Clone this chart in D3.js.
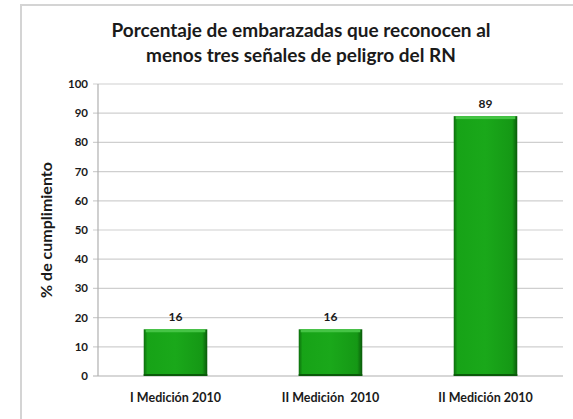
<!DOCTYPE html>
<html lang="es">
<head>
<meta charset="utf-8">
<title>Porcentaje de embarazadas</title>
<script src="https://d3js.org/d3.v7.min.js"></script>
<style>
  body { margin: 0; background: #fff; }
  svg text { font-family: Lato, "Open Sans", sans-serif; fill: #1a1a1a; }
</style>
</head>
<body>
<svg width="573" height="419"></svg>
<script>
// data
var categorias = ["I Medición 2010", "II Medición  2010", "II Medición 2010"];
var valores = [16, 16, 89];
var ticksY = [0, 10, 20, 30, 40, 50, 60, 70, 80, 90, 100];
var titulo = ["Porcentaje de embarazadas que reconocen al", "menos tres señales de peligro del RN"];
var tituloEje = "% de cumplimiento";

(function() {
var svg = d3.select("svg");
var mLeft = 98, mRight = 563, mTop = 84, mBottom = 376;

// outer frame (open on right and bottom, cropped)
svg.append("path")
    .attr("d", "M21,419 V5 H573")
    .attr("fill", "none")
    .attr("stroke", "#d4d4d4")
    .attr("stroke-width", 2);

var defs = svg.append("defs");
var grad = defs.append("linearGradient").attr("id", "verde")
    .attr("x1", 0).attr("x2", 1).attr("y1", 0).attr("y2", 0);
grad.append("stop").attr("offset", "0%").attr("stop-color", "#0c6e0c");
grad.append("stop").attr("offset", "6%").attr("stop-color", "#17a317");
grad.append("stop").attr("offset", "50%").attr("stop-color", "#1aa81a");
grad.append("stop").attr("offset", "92%").attr("stop-color", "#159815");
grad.append("stop").attr("offset", "100%").attr("stop-color", "#0a5a0a");

var x = d3.scaleBand().domain(categorias).range([mLeft, mRight]).paddingInner(0.59).paddingOuter(0.295);
var y = d3.scaleLinear().domain([0, 100]).range([mBottom, mTop]);

// gridlines
svg.append("g").selectAll("line").data(ticksY).join("line")
    .attr("x1", mLeft - 5).attr("x2", mRight)
    .attr("y1", function(d) { return y(d); })
    .attr("y2", function(d) { return y(d); })
    .attr("stroke", function(d) { return d === 0 ? "#b0b0b0" : "#cfcfcf"; })
    .attr("stroke-width", 1.2);

// y axis line
svg.append("line")
    .attr("x1", mLeft).attr("x2", mLeft)
    .attr("y1", y(100)).attr("y2", y(0))
    .attr("stroke", "#b0b0b0").attr("stroke-width", 1.2);

// y tick labels
svg.append("g").selectAll("text").data(ticksY).join("text")
    .attr("x", 88)
    .attr("y", function(d) { return y(d) + 4; })
    .attr("text-anchor", "end")
    .attr("font-size", 11.5)
    .attr("font-weight", "bold")
    .text(function(d) { return d; });

// bars
var barras = svg.append("g").selectAll("g").data(valores).join("g");
barras.append("rect")
    .attr("x", function(d, i) { return x(categorias[i]); })
    .attr("y", function(d) { return y(d); })
    .attr("width", x.bandwidth())
    .attr("height", function(d) { return y(0) - y(d); })
    .attr("fill", "url(#verde)");
// top highlight
barras.append("rect")
    .attr("x", function(d, i) { return x(categorias[i]) + 2; })
    .attr("y", function(d) { return y(d); })
    .attr("width", x.bandwidth() - 4)
    .attr("height", 3)
    .attr("fill", "#45c445");
// bottom shade
barras.append("rect")
    .attr("x", function(d, i) { return x(categorias[i]); })
    .attr("y", function(d) { return y(0) - 2; })
    .attr("width", x.bandwidth())
    .attr("height", 2)
    .attr("fill", "#0a5a0a");

// value labels
svg.append("g").selectAll("text").data(valores).join("text")
    .attr("x", function(d, i) { return x(categorias[i]) + x.bandwidth() / 2; })
    .attr("y", function(d) { return y(d) - 8; })
    .attr("text-anchor", "middle")
    .attr("font-size", 12)
    .attr("font-weight", "bold")
    .text(function(d) { return d; });

// category labels
svg.append("g").selectAll("text").data(categorias).join("text")
    .attr("x", function(d) { return x(d) + x.bandwidth() / 2; })
    .attr("y", 402)
    .attr("text-anchor", "middle")
    .attr("font-size", 12.5)
    .attr("font-weight", "bold")
    .style("white-space", "pre")
    .text(function(d) { return d; });

// axis title
svg.append("text")
    .attr("transform", "translate(52,230) rotate(-90)")
    .attr("text-anchor", "middle")
    .attr("font-size", 16)
    .attr("font-weight", "bold")
    .text(tituloEje);

// chart title
svg.append("g").selectAll("text").data(titulo).join("text")
    .attr("x", 301)
    .attr("y", function(d, i) { return 37 + i * 25; })
    .attr("text-anchor", "middle")
    .attr("font-size", 19)
    .attr("font-weight", "bold")
    .text(function(d) { return d; });
})();
</script>
</body>
</html>
